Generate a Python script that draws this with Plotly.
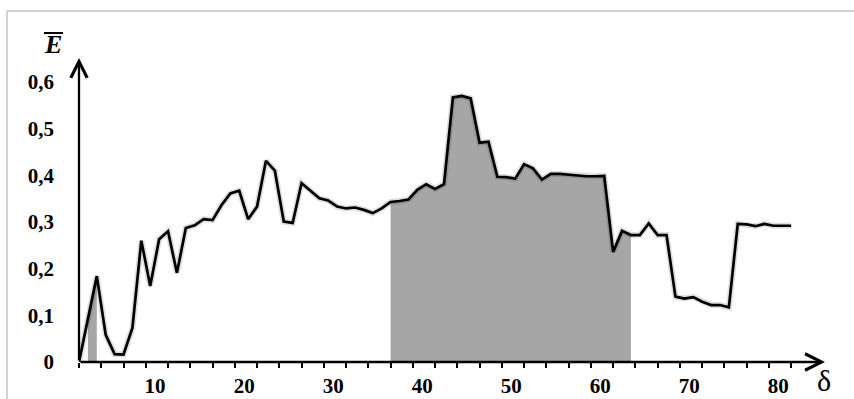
import plotly.graph_objects as go

# ---- data ----
delta = list(range(1, 82))
E_mean = [0, 0.09, 0.184, 0.058, 0.017, 0.016, 0.073, 0.26, 0.163, 0.263,
          0.28, 0.191, 0.287, 0.293, 0.306, 0.304, 0.336, 0.361, 0.367, 0.306,
          0.333, 0.431, 0.41, 0.301, 0.298, 0.383, 0.367, 0.351, 0.346, 0.333,
          0.329, 0.331, 0.326, 0.319, 0.329, 0.343, 0.345, 0.348, 0.369, 0.381,
          0.371, 0.381, 0.567, 0.57, 0.565, 0.47, 0.472, 0.397, 0.396, 0.393,
          0.424, 0.415, 0.391, 0.403, 0.403, 0.401, 0.399, 0.398, 0.398, 0.399,
          0.236, 0.281, 0.272, 0.272, 0.297, 0.272, 0.272, 0.14, 0.136, 0.139,
          0.129, 0.122, 0.122, 0.117, 0.296, 0.295, 0.291, 0.296, 0.292, 0.292,
          0.292]
shaded_ranges = [(2, 3), (36, 63)]
y_ticks = [0, 0.1, 0.2, 0.3, 0.4, 0.5, 0.6]
y_tick_text = ["0", "0,1", "0,2", "0,3", "0,4", "0,5", "0,6"]
x_label_values = [10, 20, 30, 40, 50, 60, 70, 80]
x_minor_ticks = [1 + 2.5 * k for k in range(33)]

# ---- geometry (pixels) ----
W, H = 854, 399
L, R, T, B = 79, 825, 58, 362
XMAX = 84.8
YMAX = 0.6514
FONT = "Liberation Serif"

def px(xp):
    return (xp - L) / (R - L)

def py(yp):
    return (B - yp) / (B - T)

fig = go.Figure()

for a, b in shaded_ranges:
    xs = [d for d in delta if a <= d <= b]
    ys = [E_mean[d - 1] for d in xs]
    fig.add_trace(go.Scatter(x=xs, y=ys, mode="lines", fill="tozeroy",
                             fillcolor="#a6a6a6", line=dict(width=0),
                             hoverinfo="skip", showlegend=False))

# soft shadow
fig.add_trace(go.Scatter(x=delta, y=E_mean, mode="lines",
                         line=dict(color="rgba(0,0,0,0.13)", width=6),
                         hoverinfo="skip", showlegend=False))
fig.add_trace(go.Scatter(x=delta, y=E_mean, mode="lines",
                         line=dict(color="black", width=2.7),
                         showlegend=False))

fig.update_layout(
    width=W, height=H,
    margin=dict(l=L, r=W - R, t=T, b=H - B, pad=0),
    paper_bgcolor="white", plot_bgcolor="white",
    xaxis=dict(range=[1, XMAX], showgrid=False, zeroline=False, showline=False,
               automargin=False,
               tickmode="array", tickvals=[v - 0.45 for v in x_label_values],
               ticktext=[str(v) for v in x_label_values], ticks="",
               tickfont=dict(family=FONT, size=21, color="black", weight="bold"),
               ticklabelstandoff=9,
               minor=dict(tickmode="array", tickvals=x_minor_ticks, ticks="outside",
                          ticklen=5, tickwidth=2, tickcolor="black", showgrid=False)),
    yaxis=dict(range=[0, YMAX], showgrid=False, zeroline=False, showline=False,
               automargin=False,
               tickmode="array", tickvals=y_ticks, ticktext=y_tick_text, ticks="",
               tickfont=dict(family=FONT, size=21, color="black", weight="bold"),
               ticklabelstandoff=24),
    shapes=[
        dict(type="line", xref="paper", yref="paper", x0=px(7), x1=px(854),
             y0=py(11), y1=py(11), line=dict(color="#c4c4c4", width=1.5)),
        dict(type="line", xref="paper", yref="paper", x0=px(7), x1=px(7),
             y0=py(11), y1=py(399), line=dict(color="#c4c4c4", width=1.5)),
        dict(type="line", xref="paper", yref="paper", x0=px(44), x1=px(63),
             y0=py(33), y1=py(33), line=dict(color="black", width=2)),
    ],
    annotations=[
        dict(x=XMAX, y=0, ax=1, ay=0, xref="x", yref="y", axref="x", ayref="y",
             text="", showarrow=True, arrowhead=5, arrowsize=1.4, arrowwidth=2.3,
             arrowcolor="black"),
        dict(x=1, y=YMAX, ax=1, ay=0, xref="x", yref="y", axref="x", ayref="y",
             text="", showarrow=True, arrowhead=5, arrowsize=1.4, arrowwidth=2.3,
             arrowcolor="black"),
        dict(x=px(53), y=py(45), xref="paper", yref="paper", text="<b><i>E</i></b>",
             xanchor="center", yanchor="middle", showarrow=False,
             font=dict(family=FONT, size=26, color="black")),
        dict(x=px(824), y=py(380), xref="paper", yref="paper", text="δ",
             xanchor="center", yanchor="middle", showarrow=False,
             font=dict(family=FONT, size=30, color="black")),
    ],
)

fig.write_html("out.html")
